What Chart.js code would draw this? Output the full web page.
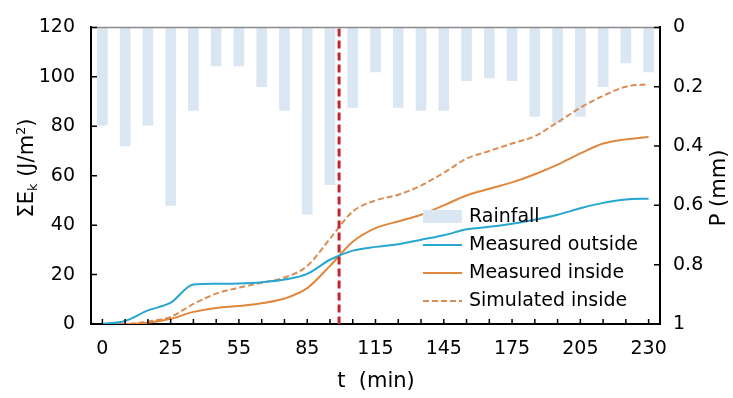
<!DOCTYPE html>
<html>
<head>
<meta charset="utf-8">
<script src="https://cdn.jsdelivr.net/npm/chart.js@4"></script>
<style>
  body { margin: 0; background: #fff; }
  #chart { display: block; }
</style>
</head>
<body>
<canvas id="chart" width="733" height="398"></canvas>
<script>
// --- Data ---
const timeLabels = ['0', '5', '15', '25', '35', '45', '55', '65', '75', '85', '95', '105', '115',
                    '125', '135', '145', '155', '165', '175', '185', '195', '205', '215', '225', '230'];
const rainfall = [0.33, 0.40, 0.33, 0.60, 0.28, 0.13, 0.13, 0.20, 0.28, 0.63, 0.53, 0.27, 0.15,
                  0.27, 0.28, 0.28, 0.18, 0.17, 0.18, 0.30, 0.32, 0.30, 0.20, 0.12, 0.15];
const measuredOutside = [0, 1.2, 5.5, 8.6, 16.0, 16.3, 16.4, 16.9, 18.0, 20.3, 26.0, 29.7, 31.2,
                         32.3, 34.1, 35.9, 38.3, 39.3, 40.6, 42.2, 44.2, 46.8, 49.0, 50.4, 50.7];
const measuredInside = [0, 0, 0.5, 2.1, 4.9, 6.5, 7.3, 8.4, 10.3, 14.5, 23.5, 33.3, 38.8,
                        41.5, 44.2, 48.0, 52.0, 54.7, 57.3, 60.6, 64.5, 69.0, 73.0, 74.7, 75.7];
const simulatedInside = [0, 0, 1.0, 2.9, 8.1, 12.3, 14.7, 16.7, 18.8, 23.5, 34.5, 45.5, 50.0,
                         52.3, 56.0, 61.2, 66.9, 70.0, 73.0, 76.0, 81.6, 87.5, 92.3, 96.0, 97.0];
const rainStopIndex = 10.4; // red dashed marker, between t=95 and t=105

// --- Styles ---
const FONT = "'DejaVu Sans', 'Liberation Sans', Arial, sans-serif";
const CYAN = '#27a6cf';
const ORANGE = '#e0873e';
const ORANGE_DASH = '#d98d52';
const RAIN_BLUE = '#dbe6f3';

Chart.defaults.font.family = FONT;
Chart.defaults.font.size = 19;
Chart.defaults.color = '#000';

// draws a line of text made of pieces (for sub/superscripts)
function drawRich(ctx, parts, cx, cy, angle) {
    ctx.save();
    ctx.translate(cx, cy);
    ctx.rotate(angle);
    ctx.textBaseline = 'middle';
    ctx.fillStyle = '#000';
    let total = 0;
    parts.forEach(p => {
        ctx.font = p.size + 'px ' + FONT;
        p.w = ctx.measureText(p.text).width;
        total += p.w;
    });
    let x = -total / 2;
    parts.forEach(p => {
        ctx.font = p.size + 'px ' + FONT;
        ctx.fillText(p.text, x, p.dy || 0);
        x += p.w;
    });
    ctx.restore();
}

// --- Extras: frame, inward ticks, marker line, titles, legend ---
const extras = {
    id: 'extras',
    afterDatasetsDraw(chart) {
        const ctx = chart.ctx;
        const area = chart.chartArea;
        const px = chart.scales.x.getPixelForValue(rainStopIndex);
        ctx.save();
        ctx.strokeStyle = '#c0272d';
        ctx.lineWidth = 3;
        ctx.setLineDash([8, 4]);
        ctx.beginPath();
        ctx.moveTo(px, area.top + 1);
        ctx.lineTo(px, area.bottom);
        ctx.stroke();
        ctx.restore();
    },
    afterDraw(chart) {
        const ctx = chart.ctx;
        const area = chart.chartArea;
        const xs = chart.scales.x, ys = chart.scales.y, ys1 = chart.scales.y1;

        ctx.save();
        // top frame line
        ctx.strokeStyle = '#8a8a8a';
        ctx.lineWidth = 1.5;
        ctx.beginPath();
        ctx.moveTo(area.left, area.top);
        ctx.lineTo(area.right, area.top);
        ctx.stroke();

        // tick marks pointing into the plot
        ctx.strokeStyle = '#000';
        ctx.lineWidth = 1.5;
        ctx.beginPath();
        xs.ticks.forEach((t, i) => {
            const p = xs.getPixelForTick(i);
            ctx.moveTo(p, area.bottom);
            ctx.lineTo(p, area.bottom - 5);
        });
        ys.ticks.forEach((t, i) => {
            const p = ys.getPixelForTick(i);
            ctx.moveTo(area.left, p);
            ctx.lineTo(area.left + 6, p);
        });
        ys1.ticks.forEach((t, i) => {
            const p = ys1.getPixelForTick(i);
            ctx.moveTo(area.right, p);
            ctx.lineTo(area.right - 6, p);
        });
        ctx.stroke();
        ctx.restore();

        // axis titles
        drawRich(ctx, [
            { text: 'ΣE', size: 21 },
            { text: 'k', size: 13, dy: 6 },
            { text: ' (J/m', size: 21 },
            { text: '2', size: 13, dy: -6 },
            { text: ')', size: 21 }
        ], 28, 168, -Math.PI / 2);
        drawRich(ctx, [{ text: 'P (mm)', size: 21 }], 720, 188, -Math.PI / 2);
        drawRich(ctx, [{ text: 't  (min)', size: 21 }], 376, 382, 0);

        // legend
        const legendX = 423, textX = 469;
        const rows = [217, 245, 273, 301];
        ctx.save();
        ctx.font = '19px ' + FONT;
        ctx.textBaseline = 'middle';
        chart.data.datasets.forEach((ds, i) => {
            const yRow = rows[i];
            if (ds.type === 'bar') {
                ctx.fillStyle = ds.backgroundColor;
                ctx.fillRect(legendX, yRow - 7, 39, 13);
            } else {
                ctx.strokeStyle = ds.borderColor;
                ctx.lineWidth = 2;
                ctx.setLineDash(ds.borderDash || []);
                ctx.beginPath();
                ctx.moveTo(legendX, yRow);
                ctx.lineTo(legendX + 39, yRow);
                ctx.stroke();
                ctx.setLineDash([]);
            }
            ctx.fillStyle = '#000';
            ctx.fillText(ds.label, textX, yRow);
        });
        ctx.restore();
    }
};

// --- Chart ---
const ctx = document.getElementById('chart').getContext('2d');
new Chart(ctx, {
    type: 'bar',
    data: {
        labels: timeLabels,
        datasets: [
            { type: 'bar', label: 'Rainfall', data: rainfall, yAxisID: 'y1',
              backgroundColor: RAIN_BLUE, barThickness: 10, order: 5 },
            { type: 'line', label: 'Measured outside', data: measuredOutside, yAxisID: 'y',
              borderColor: CYAN, borderWidth: 2, pointRadius: 0, cubicInterpolationMode: 'monotone', order: 1 },
            { type: 'line', label: 'Measured inside', data: measuredInside, yAxisID: 'y',
              borderColor: ORANGE, borderWidth: 2, pointRadius: 0, cubicInterpolationMode: 'monotone', order: 2 },
            { type: 'line', label: 'Simulated inside', data: simulatedInside, yAxisID: 'y',
              borderColor: ORANGE_DASH, borderWidth: 2, borderDash: [6, 3], pointRadius: 0,
              cubicInterpolationMode: 'monotone', order: 3 }
        ]
    },
    options: {
        responsive: false,
        animation: false,
        events: [],
        layout: { padding: { top: 19, left: 0, right: 0, bottom: 0 } },
        plugins: { legend: { display: false }, tooltip: { enabled: false } },
        scales: {
            x: {
                type: 'category',
                offset: true,
                grid: { display: false, drawTicks: false, offset: false },
                border: { display: true, color: '#000', width: 2 },
                ticks: {
                    autoSkip: false, maxRotation: 0, padding: 14,
                    callback(value, index) { return index % 3 === 0 ? this.getLabelForValue(value) : ''; }
                },
                afterFit(scale) { scale.height = 74; }
            },
            y: {
                position: 'left',
                min: 0, max: 120,
                grid: { display: false, drawTicks: false },
                border: { display: true, color: '#000', width: 2 },
                ticks: { stepSize: 20, padding: 16 },
                afterFit(scale) { scale.width = 91; }
            },
            y1: {
                position: 'right',
                min: 0, max: 1, reverse: true,
                grid: { display: false, drawTicks: false },
                border: { display: true, color: '#000', width: 2 },
                ticks: { stepSize: 0.2, padding: 13, callback: v => String(Math.round(v * 10) / 10) },
                afterFit(scale) { scale.width = 73; }
            }
        }
    },
    plugins: [extras]
});
</script>
</body>
</html>
